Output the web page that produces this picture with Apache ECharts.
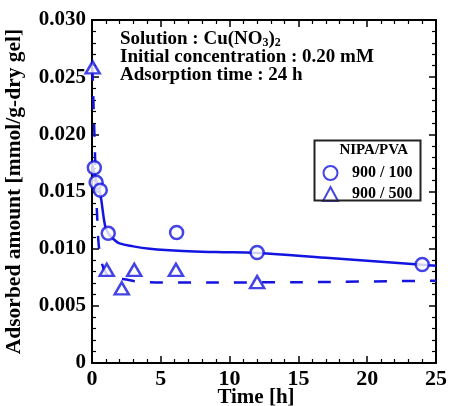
<!DOCTYPE html>
<html>
<head>
<meta charset="utf-8">
<script src="https://cdn.jsdelivr.net/npm/echarts@6/dist/echarts.min.js"></script>
<style>
  html, body { margin: 0; padding: 0; background: #fff; }
  #chart { width: 450px; height: 406px; }
</style>
</head>
<body>
<div id="chart"></div>
<script>
// measured points (time [h], adsorbed amount [mmol/g-dry gel])
var pva100 = [[0.17, 0.01707], [0.3, 0.0158], [0.6, 0.01512], [1.18, 0.01134],
    [6.15, 0.01142], [12.0, 0.00967], [24.0, 0.00862]];
var pva500 = [[0.05, 0.02585], [1.07, 0.00815], [2.16, 0.00653], [3.07, 0.00815],
    [6.1, 0.00815], [12.0, 0.00708]];

// fitted curves
var fit100 = [[0.0, 0.0175], [0.3, 0.0160], [0.6, 0.0148], [0.95, 0.0120], [1.2, 0.0113],
    [1.6, 0.0108], [2.0, 0.01046], [3.0, 0.0102], [4.2, 0.0100], [6.6, 0.0098],
    [9.0, 0.0097], [12.0, 0.00962], [17.0, 0.0092], [24.0, 0.0086], [25.0, 0.0085]];
var fit500 = [[0.03, 0.0258], [0.1, 0.0230], [0.2, 0.0190], [0.3, 0.0150], [0.4, 0.0122],
    [0.5, 0.0102], [0.7, 0.0088], [1.0, 0.0079], [1.5, 0.0075], [2.5, 0.0073],
    [3.5, 0.0071], [6.0, 0.00703], [12.0, 0.00705], [18.0, 0.0071], [25.0, 0.0072]];

var seriesNames = ['900 / 100', '900 / 500'];
var blue = '#1414e0';
var font = 'Liberation Serif';

var myChart = echarts.init(document.getElementById('chart'));

function axisCommon(show) {
    return {
        axisLine: { show: true, onZero: false, lineStyle: { color: '#000', width: 2 } },
        axisTick: { show: true, inside: true, length: 7, lineStyle: { color: '#000', width: 1.5 } },
        minorTick: { show: true, splitNumber: 5, length: 4, lineStyle: { color: '#000', width: 1.2 } },
        splitLine: { show: false },
        axisLabel: { show: show }
    };
}

var xBottom = Object.assign(axisCommon(true), {
    type: 'value', min: 0, max: 25, interval: 5, position: 'bottom',
    name: 'Time [h]', nameLocation: 'middle', nameGap: 24, nameMoveOverlap: false,
    nameTextStyle: { fontFamily: font, fontWeight: 'bold', fontSize: 21, color: '#000', padding: [0, 16, 0, 0] }
});
xBottom.axisLabel = { show: true, margin: 5, fontFamily: font, fontWeight: 'bold', fontSize: 22, color: '#000' };
var xTop = Object.assign(axisCommon(false), { type: 'value', min: 0, max: 25, interval: 5, position: 'top' });

var yLeft = Object.assign(axisCommon(true), {
    type: 'value', min: 0, max: 0.03, interval: 0.005, position: 'left',
    name: 'Adsorbed amount [mmol/g-dry gel]', nameLocation: 'middle', nameGap: 67, nameMoveOverlap: false,
    nameTextStyle: { fontFamily: font, fontWeight: 'bold', fontSize: 21.5, color: '#000' }
});
yLeft.axisLabel = {
    show: true, margin: 6, fontFamily: font, fontWeight: 'bold', fontSize: 21, color: '#000',
    formatter: function (v) { return v === 0 ? '0' : v.toFixed(3); }
};
var yRight = Object.assign(axisCommon(false), { type: 'value', min: 0, max: 0.03, interval: 0.005, position: 'right' });

var option = {
    animation: false,
    backgroundColor: '#fff',
    grid: { left: 92, right: 14, top: 20, bottom: 43, outerBoundsMode: 'none' },
    xAxis: [xBottom, xTop],
    yAxis: [yLeft, yRight],
    legend: {
        data: [{ name: seriesNames[0], icon: 'circle' }, { name: seriesNames[1], icon: 'triangle' }],
        orient: 'vertical', left: 317, top: 160, itemGap: 5,
        itemWidth: 15, itemHeight: 14,
        textStyle: { fontFamily: font, fontWeight: 'bold', fontSize: 16, color: '#000', padding: [0, 0, 0, 9] }
    },
    graphic: [
        {
            type: 'rect', left: 312, top: 138, z: 100,
            shape: { width: 106, height: 60 },
            style: { fill: 'none', stroke: '#222', lineWidth: 2 }
        },
        {
            type: 'text', right: 42, top: 143, z: 100,
            style: { text: 'NIPA/PVA', font: 'bold 15px "Liberation Serif"', fill: '#000' }
        },
        {
            type: 'text', left: 120, top: 30, z: 100,
            style: {
                text: 'Solution : Cu(NO{sub|3}){sub|2}\nInitial concentration : 0.20 mM\nAdsorption time : 24 h',
                font: 'bold 19px "Liberation Serif"', fill: '#000', lineHeight: 18,
                rich: { sub: { fontSize: 12, fontWeight: 'bold', fontFamily: font, verticalAlign: 'bottom', padding: [7, 0, 0, 0] } }
            }
        }
    ],
    series: [
        {
            name: 'fit100', type: 'line', data: fit100, smooth: 0.4, showSymbol: false, silent: true,
            lineStyle: { color: blue, width: 2.5 }, z: 2
        },
        {
            name: 'fit500', type: 'line', data: fit500, smooth: 0.4, showSymbol: false, silent: true,
            lineStyle: { color: blue, width: 2.5, type: [13, 15] }, z: 2
        },
        {
            name: seriesNames[0], type: 'scatter', data: pva100, symbol: 'circle', symbolSize: 13,
            itemStyle: { color: '#fff', borderColor: blue, borderWidth: 2.5 }, z: 3
        },
        {
            name: seriesNames[1], type: 'scatter', data: pva500, symbol: 'triangle', symbolSize: [14, 12],
            itemStyle: { color: '#fff', borderColor: blue, borderWidth: 2.5 }, z: 3
        }
    ]
};

myChart.setOption(option);
window.addEventListener('resize', function () {
    myChart.resize();
});
</script>
</body>
</html>
